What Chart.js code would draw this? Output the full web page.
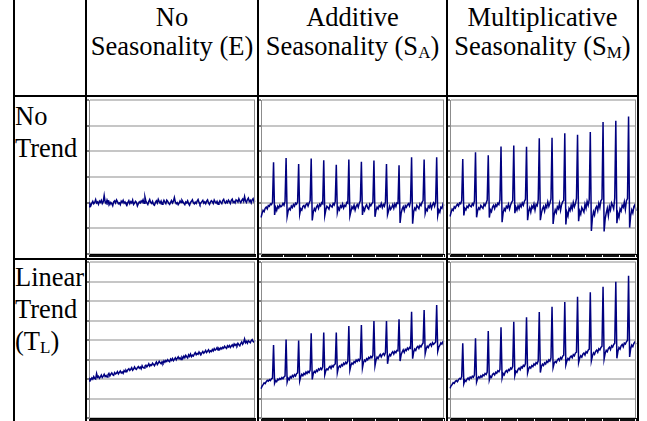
<!DOCTYPE html>
<html>
<head>
<meta charset="utf-8">
<script src="https://cdn.jsdelivr.net/npm/chart.js@4/dist/chart.umd.min.js"></script>
<style>
  html, body { margin: 0; padding: 0; background: #fff; }
  body { width: 647px; height: 421px; position: relative; overflow: hidden;
         font-family: "Liberation Serif", "Times New Roman", serif; color: #000; }
  canvas { position: absolute; }
  .vl { position: absolute; top: 0; width: 2px; height: 421px; background: #000; z-index: 2; }
  .hl { position: absolute; height: 2px; background: #000; z-index: 2; }
  .hd { position: absolute; top: 3px; font-size: 26.5px; line-height: 29px; text-align: center; white-space: nowrap; }
  .rh { position: absolute; left: 15px; font-size: 26.5px; line-height: 32px; }
  sub { font-size: 17px; line-height: 0; vertical-align: -3px; }
</style>
</head>
<body>
<div class="vl" style="left:13px"></div>
<div class="vl" style="left:85px"></div>
<div class="vl" style="left:257px"></div>
<div class="vl" style="left:446px"></div>
<div class="vl" style="left:637px"></div>
<div class="hl" style="left:13px;width:626px;top:95px"></div>
<div class="hl" style="left:13px;width:626px;top:258px"></div>

<div class="hd" style="left:87px;width:170px">No<br>Seasonality (E)</div>
<div class="hd" style="left:259px;width:187px">Additive<br>Seasonality (S<sub>A</sub>)</div>
<div class="hd" style="left:448px;width:189px">Multiplicative<br>Seasonality (S<sub>M</sub>)</div>
<div class="rh" style="top:100px">No<br>Trend</div>
<div class="rh" style="top:261px">Linear<br>Trend<br>(T<sub>L</sub>)</div>

<canvas id="c1" width="171" height="160" style="left:86px;top:97px"></canvas>
<canvas id="c2" width="189" height="160" style="left:258px;top:97px"></canvas>
<canvas id="c3" width="191" height="160" style="left:447px;top:97px"></canvas>
<canvas id="c4" width="171" height="161" style="left:86px;top:260px"></canvas>
<canvas id="c5" width="189" height="161" style="left:258px;top:260px"></canvas>
<canvas id="c6" width="191" height="161" style="left:447px;top:260px"></canvas>

<script>
// no trend, no seasonality
const noTrendNoSeason = [
  184, 195, 189, 198, 205, 196, 201, 212, 199, 203, 194, 206, 201, 209, 197, 204, 228, 203, 197, 210,
  199, 204, 193, 201, 196, 188, 203, 207, 199, 211, 204, 196, 199, 192, 206, 201, 209, 198, 203, 195,
  190, 201, 208, 196, 204, 199, 210, 193, 198, 205, 201, 187, 196, 203, 199, 207, 202, 211, 198, 222,
  206, 199, 193, 204, 212, 201, 197, 205, 193, 190, 201, 207, 199, 213, 204, 198, 206, 194, 200, 209,
  202, 196, 210, 205, 197, 193, 201, 208, 199, 206, 220, 203, 196, 200, 192, 198, 207, 201, 210, 204,
  197, 192, 203, 199, 207, 196, 190, 201, 205, 211, 200, 195, 202, 197, 206, 212, 201, 193, 199, 204,
  209, 198, 203, 196, 206, 211, 199, 193, 202, 208, 204, 197, 210, 203, 198, 205, 194, 200, 207, 201,
  196, 208, 213, 202, 198, 206, 200, 210, 204, 197, 209, 214, 201, 205, 199, 211, 207, 202, 215, 206,
  200, 209, 214, 205, 224, 207, 201, 212, 218, 204, 209, 199, 211, 216, 203, 208
];
// no trend, additive seasonality
const noTrendAdditive = [
  142, 158, 170, 165, 178, 183, 176, 189, 186, 195, 192, 201,
  357, 152, 181, 170, 186, 179, 191, 184, 188, 197, 190, 206,
  374, 146, 168, 178, 172, 187, 181, 193, 186, 198, 194, 203,
  351, 155, 176, 171, 185, 189, 180, 192, 197, 187, 199, 208,
  372, 131, 163, 177, 169, 183, 190, 178, 194, 188, 200, 196,
  365, 150, 172, 186, 181, 175, 192, 187, 183, 197, 191, 205,
  348, 161, 180, 172, 188, 182, 195, 179, 190, 186, 201, 198,
  368, 148, 166, 184, 177, 190, 171, 186, 193, 182, 198, 207,
  359, 152, 179, 169, 186, 192, 180, 175, 194, 188, 196, 202,
  364, 145, 170, 183, 176, 189, 184, 197, 181, 193, 186, 204,
  351, 153, 168, 186, 174, 181, 192, 178, 195, 185, 199, 197,
  346, 121, 158, 175, 184, 169, 188, 182, 191, 196, 187, 205,
  377, 118, 164, 179, 172, 190, 183, 177, 195, 189, 201, 208,
  368, 158, 175, 169, 187, 181, 194, 178, 192, 199, 186, 203,
  377, 150, 171, 163, 182, 178, 195, 188
];
// no trend, multiplicative seasonality
const noTrendMultiplicative = [
  146, 162, 175, 170, 184, 179, 188, 194, 187, 199, 196, 208,
  370, 150, 178, 172, 186, 181, 193, 187, 184, 196, 190, 207,
  396, 143, 169, 180, 174, 189, 183, 178, 195, 188, 199, 210,
  385, 142, 172, 165, 183, 190, 177, 192, 186, 198, 193, 212,
  419, 124, 160, 177, 169, 186, 180, 194, 175, 191, 201, 208,
  423, 159, 182, 171, 188, 176, 193, 184, 199, 190, 205, 213,
  418, 132, 166, 180, 163, 187, 179, 195, 171, 193, 188, 211,
  451, 132, 158, 176, 185, 167, 190, 181, 203, 186, 198, 215,
  453, 117, 153, 172, 161, 184, 176, 197, 170, 192, 204, 209,
  470, 115, 162, 148, 178, 169, 190, 175, 201, 184, 196, 217,
  465, 128, 167, 155, 181, 172, 163, 194, 178, 205, 190, 212,
  475,  90, 141, 165, 152, 178, 186, 169, 197, 181, 207, 214,
  514,  88, 137, 160, 178, 149, 185, 171, 199, 189, 176, 218,
  519, 120, 158, 143, 176, 167, 190, 182, 203, 174, 208, 216,
  536, 103, 149, 172, 160, 185, 192, 168
];
// linear trend, no seasonality
const trendNoSeason = [
  190, 201, 197, 206, 199, 212, 203, 200, 228, 209,
  214, 204, 211, 220, 208, 215, 224, 212, 218, 210,
  222, 229, 216, 225, 231, 222, 219, 233, 226, 230,
  238, 226, 234, 241, 231, 236, 229, 243, 237, 245,
  239, 248, 253, 244, 250, 258, 245, 251, 262, 253,
  249, 258, 264, 255, 261, 252, 268, 259, 256, 266,
  271, 262, 269, 278, 266, 273, 270, 281, 275, 268,
  279, 287, 274, 282, 291, 283, 278, 288, 281, 293,
  286, 295, 290, 299, 292, 288, 302, 296, 305, 294,
  301, 309, 298, 306, 314, 303, 309, 300, 312, 306,
  317, 309, 321, 314, 308, 324, 316, 328, 315, 322,
  318, 327, 335, 324, 331, 327, 339, 330, 325, 334,
  341, 332, 338, 347, 336, 343, 350, 338, 345, 341,
  351, 344, 356, 348, 353, 361, 349, 357, 352, 360,
  354, 363, 358, 368, 361, 357, 370, 364, 372, 362,
  369, 375, 366, 380, 372, 378, 371, 383, 376, 370,
  382, 390, 378, 387, 405, 386, 393, 384, 396, 391,
  386, 397, 402, 392, 389, 399
];
// linear trend, additive seasonality
const trendAdditive = [
  150, 163, 171, 180, 176, 186, 193, 189, 197, 192, 201, 205,
  374, 178, 192, 186, 199, 195, 203, 198, 207, 201, 211, 216,
  403, 184, 204, 197, 212, 206, 218, 211, 222, 215, 227, 231,
  397, 190, 212, 224, 217, 229, 223, 236, 228, 239, 233, 246,
  434, 198, 228, 239, 233, 245, 239, 252, 246, 256, 249, 262,
  438, 222, 243, 252, 247, 259, 265, 254, 268, 262, 273, 277,
  438, 232, 258, 267, 261, 274, 268, 281, 275, 286, 279, 292,
  472, 246, 270, 282, 276, 289, 284, 297, 290, 301, 294, 306,
  477, 256, 285, 297, 291, 304, 298, 311, 305, 316, 309, 321,
  497, 268, 297, 312, 305, 318, 326, 313, 325, 331, 322, 336,
  497, 278, 312, 326, 319, 333, 340, 328, 341, 335, 347, 345,
  506, 292, 324, 338, 349, 336, 352, 346, 359, 351, 362, 358,
  545, 304, 339, 354, 347, 362, 368, 357, 371, 365, 376, 385,
  554, 330, 355, 368, 361, 374, 380, 369, 386, 378, 383, 390,
  579, 342, 364, 372, 385, 379, 392, 398
];
// linear trend, multiplicative seasonality
const trendMultiplicative = [
  152, 165, 172, 181, 177, 188, 192, 186, 197, 203, 199, 212,
  383, 176, 194, 188, 199, 205, 197, 210, 204, 214, 209, 221,
  409, 184, 202, 211, 205, 216, 210, 222, 217, 228, 223, 236,
  446, 195, 214, 208, 223, 229, 221, 235, 230, 242, 237, 250,
  465, 205, 228, 221, 236, 243, 235, 249, 244, 256, 251, 265,
  494, 217, 240, 234, 249, 256, 247, 262, 257, 270, 265, 279,
  516, 231, 252, 262, 256, 269, 263, 277, 271, 284, 279, 293,
  544, 233, 264, 276, 269, 283, 277, 291, 285, 298, 292, 308,
  571, 259, 281, 290, 284, 297, 304, 295, 310, 303, 317, 322,
  595, 272, 293, 305, 298, 312, 318, 309, 325, 319, 333, 338,
  622, 284, 306, 319, 312, 327, 333, 323, 340, 334, 348, 353,
  645, 293, 318, 334, 326, 342, 348, 337, 355, 349, 362, 368,
  673, 302, 331, 347, 340, 356, 363, 351, 370, 364, 377, 384,
  699, 306, 342, 361, 353, 370, 377, 365, 384, 379, 391, 399,
  730, 313, 355, 374, 366, 383, 390, 378
];
const periods = noTrendNoSeason.map((v, i) => String(i + 1));

const plotBorder = {
  id: 'plotBorder',
  afterDraw(chart) {
    const { ctx, chartArea: a } = chart;
    ctx.save();
    ctx.strokeStyle = '#8c8c8c';
    ctx.lineWidth = 1;
    ctx.beginPath();
    ctx.moveTo(Math.round(a.right) - 0.5, a.top);
    ctx.lineTo(Math.round(a.right) - 0.5, a.bottom);
    ctx.stroke();
    ctx.restore();
  }
};

function drawPanel(id, values, yMax, padRight, padTop) {
  new Chart(document.getElementById(id), {
    type: 'line',
    data: {
      labels: periods,
      datasets: [{ data: values, borderColor: '#000080', borderWidth: 1.5, pointRadius: 0, tension: 0, fill: false }]
    },
    options: {
      responsive: false,
      animation: false,
      devicePixelRatio: 1,
      layout: { padding: { top: padTop, right: padRight, left: 0, bottom: 0 } },
      plugins: { legend: { display: false }, tooltip: { enabled: false } },
      scales: {
        x: {
          ticks: { display: false, autoSkip: false },
          grid: { drawOnChartArea: false, drawTicks: true, tickLength: 3, tickColor: '#111', tickWidth: 1 },
          border: { display: true, color: '#000', width: 1 }
        },
        y: {
          min: 0, max: yMax,
          ticks: { display: false, stepSize: 100 },
          grid: { color: '#c6c6c6', lineWidth: 2, drawTicks: true, tickLength: 3, tickColor: '#000', tickWidth: 1 },
          border: { display: true, color: '#8c8c8c', width: 1 }
        }
      }
    },
    plugins: [plotBorder]
  });
}

drawPanel('c1', noTrendNoSeason, 600, 2, 3);
drawPanel('c2', noTrendAdditive, 600, 3, 3);
drawPanel('c3', noTrendMultiplicative, 600, 2, 3);
drawPanel('c4', trendNoSeason, 800, 2, 2);
drawPanel('c5', trendAdditive, 800, 3, 2);
drawPanel('c6', trendMultiplicative, 800, 2, 2);
</script>
</body>
</html>
